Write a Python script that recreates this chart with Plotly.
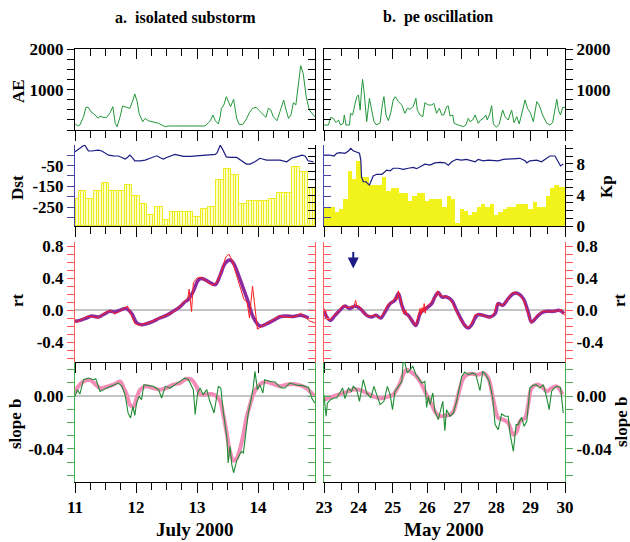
import numpy as np
import plotly.graph_objects as go

W, H = 630, 542
FONT = 'Liberation Serif'

# ---------------- data: a. isolated substorm (July 2000) ----------------
ae_a_t = [11.00, 11.04, 11.08, 11.14, 11.18, 11.22, 11.26, 11.33, 11.38, 11.41, 11.46, 11.52, 11.57, 11.62, 11.66, 11.69,
          11.74, 11.78, 11.85, 11.90, 11.95, 11.98, 12.02, 12.05, 12.11, 12.15, 12.20, 12.26, 12.31, 12.37, 12.42, 12.48,
          12.53, 12.61, 12.72, 12.83, 12.94, 13.05, 13.13, 13.19, 13.22, 13.26, 13.30, 13.35, 13.38, 13.40, 13.44, 13.48,
          13.51, 13.55, 13.60, 13.65, 13.69, 13.75, 13.80, 13.86, 13.91, 13.97, 14.02, 14.09, 14.13, 14.17, 14.21, 14.25,
          14.31, 14.36, 14.42, 14.46, 14.50, 14.54, 14.58, 14.62, 14.66, 14.70, 14.74, 14.79, 14.84, 14.90, 14.93]
ae_a = [165, 99, 124, 330, 562, 562, 454, 372, 289, 347, 314, 314, 413, 578, 165, 83, 330, 595, 562, 537, 743, 892, 702,
        413, 207, 289, 231, 207, 182, 165, 124, 83, 99, 99, 99, 99, 83, 83, 99, 182, 231, 372, 231, 149, 330, 537, 620,
        826, 702, 578, 760, 289, 140, 140, 248, 430, 537, 562, 479, 372, 314, 537, 496, 330, 231, 454, 743, 496, 289,
        372, 677, 620, 1156, 1594, 1404, 826, 496, 372, 330]

dst_a_t = [11.00, 11.05, 11.13, 11.16, 11.22, 11.27, 11.33, 11.38, 11.44, 11.49, 11.55, 11.63, 11.71, 11.77, 11.82, 11.86,
           11.90, 11.95, 11.98, 12.07, 12.15, 12.23, 12.28, 12.34, 12.39, 12.45, 12.50, 12.56, 12.64, 12.69, 12.78, 12.89,
           12.97, 13.10, 13.21, 13.30, 13.33, 13.38, 13.42, 13.48, 13.54, 13.65, 13.73, 13.81, 13.87, 13.95, 14.03, 14.14,
           14.25, 14.36, 14.47, 14.55, 14.63, 14.72, 14.77, 14.82, 14.91]
dst_a = [16, 28, 44, 48, 21, 20, 21, 24, 20, 12, 0, -3, -4, -11, -19, -11, 0, -15, -27, -27, -24, -15, -11, -3, -11, -19,
         -11, -3, 4, 0, -6, -6, -4, 0, 5, 4, 12, 48, 28, -8, -11, -11, -27, -43, -43, -32, -15, -24, -24, -24, -32, -15,
         -8, 0, -4, -27, -32]

# 3-hourly Kp, bins centred on 00, 03, 06 ... UT starting 11 July
kp_a_start = 11.0
kp_a = [3.44, 4.5, 3.44, 4.5, 5.5, 4.5, 4.5, 5.3, 3.9, 2.8, 1.4, 2.4, 0.77, 1.85, 1.85, 1.85, 1.1, 2.15, 2.4, 5.9, 7.3,
        6.6, 2.8, 3.2, 3.2, 3.2, 3.44, 4.2, 4.2, 7.6, 7.0, 4.95]

rt_a_t = [11.00, 11.04, 11.10, 11.19, 11.27, 11.38, 11.46, 11.55, 11.60, 11.65, 11.73, 11.80, 11.86, 11.91, 11.98, 12.05,
          12.12, 12.20, 12.30, 12.40, 12.50, 12.60, 12.70, 12.78, 12.85, 12.87, 12.91, 12.94, 13.00, 13.07, 13.15, 13.25,
          13.32, 13.40, 13.47, 13.52, 13.57, 13.63, 13.70, 13.77, 13.82, 13.86, 13.91, 13.95, 13.99, 14.05, 14.15, 14.25,
          14.35, 14.45, 14.55, 14.65, 14.70, 14.78, 14.85, 14.93]
rt_a = [-0.12, -0.15, -0.12, -0.08, -0.08, -0.10, -0.05, -0.01, -0.02, -0.05, -0.02, 0.02, 0.05, -0.04, -0.17, -0.19,
        -0.17, -0.16, -0.13, -0.10, -0.07, -0.03, 0.03, 0.09, 0.15, 0.26, -0.02, 0.34, 0.40, 0.41, 0.36, 0.31, 0.34, 0.48,
        0.66, 0.70, 0.63, 0.48, 0.30, 0.13, 0.10, -0.10, 0.30, 0.0, -0.24, -0.21, -0.17, -0.12, -0.07, -0.09, -0.09,
        -0.07, -0.04, -0.10, -0.14, -0.16]
rts_a_t = [11.00, 11.08, 11.19, 11.27, 11.38, 11.46, 11.57, 11.65, 11.73, 11.84, 11.93, 12.01, 12.09, 12.17, 12.28, 12.39,
           12.50, 12.61, 12.72, 12.80, 12.86, 12.94, 13.02, 13.08, 13.19, 13.30, 13.38, 13.46, 13.54, 13.60, 13.68, 13.76,
           13.84, 13.92, 14.03, 14.14, 14.25, 14.36, 14.47, 14.58, 14.69, 14.77, 14.83]
rts_a = [-0.14, -0.13, -0.10, -0.075, -0.088, -0.06, -0.017, -0.025, -0.004, 0.017, -0.046, -0.16, -0.184, -0.172, -0.142,
         -0.10, -0.067, -0.017, 0.038, 0.10, 0.134, 0.235, 0.373, 0.394, 0.352, 0.318, 0.436, 0.582, 0.624, 0.582, 0.436,
         0.268, 0.10, -0.088, -0.20, -0.172, -0.13, -0.084, -0.075, -0.08, -0.067, -0.08, -0.10]

b_a_t = [11.00, 11.04, 11.08, 11.14, 11.22, 11.30, 11.34, 11.41, 11.52, 11.63, 11.71, 11.77, 11.82, 11.87, 11.91, 11.95,
         11.98, 12.01, 12.05, 12.09, 12.13, 12.20, 12.28, 12.37, 12.42, 12.48, 12.56, 12.64, 12.72, 12.80, 12.86, 12.94,
         12.97, 13.01, 13.05, 13.10, 13.16, 13.21, 13.28, 13.35, 13.39, 13.43, 13.49, 13.51, 13.54, 13.57, 13.60, 13.65,
         13.70, 13.73, 13.76, 13.80, 13.84, 13.88, 13.92, 13.95, 13.99, 14.03, 14.08, 14.11, 14.20, 14.28, 14.33, 14.39,
         14.44, 14.52, 14.58, 14.66, 14.72, 14.77, 14.83, 14.88, 14.93]
b_a = [-0.0003, 0.0048, 0.0015, 0.0123, 0.0136, 0.0123, 0.013, 0.0035, 0.006, 0.008, 0.0098, 0.0073, 0.001, -0.0128,
       -0.0166, -0.0078, -0.0146, -0.0053, -0.0003, -0.0028, 0.0086, 0.008, 0.0073, 0.0048, -0.0015, 0.0073, 0.006,
       0.0086, 0.011, 0.0136, 0.0123, 0.0048, -0.014, 0.0023, 0.006, 0.001, 0.0048, -0.004, -0.0128, 0.0073, 0.006,
       -0.0116, -0.0317, -0.0506, -0.038, -0.0518, -0.058, -0.049, -0.044, -0.042, -0.043, -0.029, -0.0128, -0.004,
       0.006, 0.0186, 0.0048, 0.0086, 0.0023, 0.0123, 0.011, 0.0106, 0.008, 0.006, 0.006, 0.0098, 0.009, 0.008, 0.008,
       0.0073, 0.0065, -0.0015, -0.0053]
bs_a_t = [11.00, 11.05, 11.14, 11.25, 11.33, 11.41, 11.52, 11.63, 11.74, 11.79, 11.85, 11.90, 11.96, 12.01, 12.07, 12.17,
          12.28, 12.39, 12.50, 12.61, 12.72, 12.83, 12.91, 12.99, 13.05, 13.13, 13.24, 13.32, 13.38, 13.43, 13.49, 13.54,
          13.60, 13.65, 13.71, 13.76, 13.81, 13.87, 13.92, 13.98, 14.06, 14.14, 14.25, 14.36, 14.47, 14.58, 14.69, 14.77,
          14.85, 14.93]
bs_a = [0.002, 0.007, 0.011, 0.012, 0.009, 0.006, 0.007, 0.0086, 0.011, 0.007, 0.001, -0.0065, -0.0078, -0.0015, 0.0048,
        0.0073, 0.006, 0.0048, 0.006, 0.0086, 0.0098, 0.013, 0.0123, 0.0073, 0.0015, 0.001, 0.0015, -0.0003, -0.004,
        -0.014, -0.029, -0.042, -0.049, -0.047, -0.039, -0.029, -0.0166, -0.0065, 0.001, 0.006, 0.0098, 0.0106, 0.009,
        0.0073, 0.0086, 0.009, 0.008, 0.0065, 0.0035, -0.0003]

# ---------------- data: b. pe oscillation (May 2000) ----------------
ae_b_t = [23.00, 23.13, 23.19, 23.27, 23.35, 23.42, 23.48, 23.56, 23.59, 23.64, 23.74, 23.77, 23.83, 23.90, 23.95, 24.00,
          24.05, 24.09, 24.12, 24.17, 24.24, 24.32, 24.38, 24.45, 24.53, 24.63, 24.70, 24.74, 24.80, 24.87, 24.94, 25.01,
          25.07, 25.16, 25.26, 25.35, 25.42, 25.50, 25.59, 25.67, 25.71, 25.79, 25.87, 25.93, 26.03, 26.13, 26.19, 26.27,
          26.35, 26.42, 26.48, 26.56, 26.61, 26.66, 26.74, 26.78, 26.90, 27.05, 27.12, 27.19, 27.24, 27.32, 27.39, 27.48,
          27.55, 27.63, 27.70, 27.74, 27.82, 27.87, 27.92, 28.01, 28.09, 28.19, 28.26, 28.35, 28.45, 28.52, 28.60, 28.67,
          28.77, 28.84, 28.91, 29.00, 29.08, 29.18, 29.25, 29.35, 29.47, 29.56, 29.64, 29.71, 29.76, 29.81, 29.87, 29.93,
          30.00]
ae_b = [124, 124, 314, 289, 182, 248, 124, 165, 372, 124, 124, 413, 372, 620, 826, 867, 496, 991, 1256, 909, 207, 785,
        496, 207, 124, 182, 661, 826, 372, 231, 430, 743, 826, 702, 620, 413, 537, 512, 578, 785, 496, 372, 330, 677,
        620, 620, 661, 413, 537, 372, 372, 578, 595, 347, 372, 165, 124, 83, 124, 289, 207, 248, 372, 165, 248, 289, 372,
        248, 413, 603, 149, 66, 149, 496, 330, 248, 496, 182, 330, 149, 496, 743, 537, 413, 207, 702, 620, 372, 165, 124,
        182, 578, 760, 496, 372, 562, 562]

dst_b_t = [23.00, 23.17, 23.29, 23.37, 23.46, 23.61, 23.71, 23.78, 23.85, 23.95, 24.03, 24.07, 24.09, 24.14, 24.22, 24.26,
           24.32, 24.36, 24.39, 24.43, 24.53, 24.68, 24.77, 24.82, 24.92, 25.01, 25.16, 25.30, 25.45, 25.59, 25.69, 25.79,
           25.93, 26.08, 26.22, 26.37, 26.51, 26.61, 26.71, 26.85, 27.00, 27.14, 27.29, 27.39, 27.48, 27.63, 27.77, 27.92,
           28.06, 28.21, 28.35, 28.50, 28.69, 28.84, 28.89, 28.98, 29.18, 29.32, 29.47, 29.56, 29.71, 29.81, 29.87, 29.95]
dst_b = [0, 0, -4, 9, 12, 9, 20, 33, 21, 16, 9, -24, -104, -128, -128, -136, -144, -128, -116, -100, -92, -92, -80, -72,
         -75, -63, -63, -68, -63, -59, -65, -56, -43, -48, -37, -35, -37, -48, -32, -20, -24, -20, -27, -32, -20, -27,
         -24, -27, -27, -20, -19, -19, -15, -27, -37, -27, -24, -32, -15, -4, -4, -32, -52, -43]

kp_b_start = 23.0
kp_b = [2.4, 2.4, 2.4, 1.85, 2.15, 3.44, 7.05, 6.0, 8.35, 6.3, 6.3, 5.3, 5.3, 5.3, 6.3, 4.5, 4.9, 4.9, 4.3, 4.3, 3.2, 3.9,
        4.3, 4.3, 3.2, 3.44, 3.44, 3.44, 2.5, 3.9, 3.44, 0.4, 2.15, 1.9, 1.4, 1.85, 2.4, 2.8, 2.4, 2.8, 1.4, 1.85, 2.15,
        2.4, 2.4, 2.8, 2.8, 2.8, 2.15, 3.1, 2.4, 2.4, 3.9, 4.9, 5.3, 5.0, 5.0]

rt_b_t = [23.00, 23.05, 23.10, 23.19, 23.30, 23.45, 23.55, 23.62, 23.70, 23.80, 23.86, 23.92, 23.95, 24.02, 24.10, 24.20,
          24.30, 24.40, 24.50, 24.60, 24.70, 24.78, 24.85, 24.92, 25.00, 25.06, 25.12, 25.16, 25.20, 25.24, 25.28, 25.32,
          25.37, 25.42, 25.50, 25.58, 25.66, 25.72, 25.76, 25.79, 25.82, 25.85, 25.88, 25.91, 25.94, 25.98, 26.03, 26.10,
          26.17, 26.24, 26.30, 26.35, 26.40, 26.48, 26.55, 26.62, 26.70, 26.78, 26.86, 26.94, 27.02, 27.10, 27.18, 27.27,
          27.33, 27.38, 27.45, 27.52, 27.60, 27.70, 27.80, 27.88, 27.95, 28.02, 28.08, 28.15, 28.22, 28.30, 28.40, 28.48,
          28.56, 28.64, 28.72, 28.80, 28.88, 28.95, 29.02, 29.10, 29.18, 29.26, 29.32, 29.40, 29.48, 29.55, 29.62, 29.70,
          29.78, 29.83, 29.88, 29.93, 30.00]
rt_b = [0.02, -0.06, -0.12, -0.11, -0.06, 0.0, 0.06, 0.04, 0.03, 0.05, 0.03, 0.12, 0.05, 0.05, 0.0, -0.06, -0.08, -0.07,
        -0.06, -0.10, -0.06, 0.0, 0.07, 0.08, 0.11, 0.16, 0.13, 0.24, 0.15, 0.10, 0.02, -0.05, 0.0, -0.07, -0.10, -0.15,
        -0.19, -0.10, -0.03, 0.02, -0.06, 0.03, -0.02, 0.08, -0.04, 0.05, 0.06, 0.09, 0.14, 0.16, 0.24, 0.18, 0.19, 0.16,
        0.17, 0.15, 0.11, 0.04, -0.05, -0.10, -0.15, -0.20, -0.22, -0.18, -0.12, -0.06, -0.05, -0.06, -0.06, -0.08,
        -0.10, -0.08, -0.03, 0.08, 0.07, 0.06, 0.07, 0.12, 0.18, 0.22, 0.22, 0.20, 0.17, 0.12, 0.02, -0.08, -0.16, -0.12,
        -0.07, -0.05, -0.02, -0.02, -0.01, -0.03, -0.01, -0.02, 0.0, -0.02, 0.01, -0.03, -0.07]
rts_b_t = [23.00, 23.08, 23.19, 23.32, 23.46, 23.61, 23.74, 23.90, 24.05, 24.24, 24.38, 24.51, 24.65, 24.77, 24.92, 25.06,
           25.16, 25.26, 25.35, 25.45, 25.55, 25.67, 25.79, 25.88, 25.98, 26.13, 26.22, 26.32, 26.42, 26.56, 26.71, 26.85,
           27.00, 27.09, 27.19, 27.29, 27.39, 27.48, 27.63, 27.82, 27.97, 28.06, 28.19, 28.35, 28.50, 28.64, 28.79, 28.93,
           29.03, 29.18, 29.32, 29.47, 29.66, 29.81, 29.90, 29.97]
rts_b = [-0.004, -0.088, -0.13, -0.067, -0.004, 0.05, 0.017, 0.05, 0.017, -0.067, -0.088, -0.067, -0.10, -0.025, 0.08,
         0.12, 0.205, 0.059, -0.034, -0.067, -0.13, -0.193, -0.046, -0.004, 0.025, 0.08, 0.163, 0.218, 0.163, 0.163,
         0.12, -0.004, -0.13, -0.193, -0.226, -0.184, -0.10, -0.059, -0.067, -0.088, -0.046, 0.08, 0.059, 0.142, 0.205,
         0.205, 0.142, -0.025, -0.15, -0.088, -0.034, -0.017, -0.017, -0.004, -0.017, -0.046]

b_b_t = [23.00, 23.06, 23.10, 23.19, 23.29, 23.37, 23.46, 23.54, 23.61, 23.71, 23.80, 23.85, 23.95, 24.03, 24.14, 24.24,
         24.36, 24.45, 24.53, 24.63, 24.74, 24.84, 24.92, 24.99, 25.06, 25.16, 25.26, 25.30, 25.35, 25.42, 25.50, 25.58,
         25.67, 25.74, 25.84, 25.93, 25.98, 26.03, 26.08, 26.16, 26.22, 26.32, 26.37, 26.45, 26.51, 26.56, 26.66, 26.76,
         26.85, 26.93, 27.00, 27.09, 27.19, 27.32, 27.41, 27.53, 27.61, 27.70, 27.80, 27.90, 27.97, 28.06, 28.16, 28.26,
         28.35, 28.40, 28.50, 28.58, 28.64, 28.74, 28.81, 28.89, 28.98, 29.06, 29.16, 29.27, 29.37, 29.47, 29.54, 29.61,
         29.68, 29.76, 29.87, 29.95]
b_b = [0.001, -0.0153, -0.0053, -0.0028, -0.0015, -0.0015, 0.0023, 0.006, -0.002, 0.006, 0.0035, 0.0073, 0.0048, -0.004,
       0.0123, 0.0023, -0.0015, 0.0073, 0.001, -0.0065, -0.004, 0.0073, 0.001, -0.0103, 0.0035, 0.0073, 0.011, 0.0274,
       0.0249, 0.0174, 0.0199, 0.0224, 0.0161, 0.0136, 0.0098, 0.011, -0.0086, -0.0003, -0.0065, 0.0023, -0.0116,
       -0.0179, -0.0128, -0.004, -0.0262, -0.0103, -0.0153, -0.0128, -0.004, 0.006, 0.0148, 0.0181, 0.0161, 0.0174,
       0.0161, 0.004, 0.0186, 0.0161, 0.011, -0.0015, -0.0216, -0.0254, -0.0136, -0.0153, -0.0153, -0.0279, -0.0418,
       -0.0216, -0.0216, -0.0161, -0.0229, -0.0191, 0.006, 0.008, 0.0086, 0.006, 0.0086, -0.0015, -0.0103, 0.0035,
       0.006, 0.0073, 0.0065, -0.0128]
bs_b_t = [23.00, 23.13, 23.27, 23.42, 23.56, 23.71, 23.85, 24.00, 24.14, 24.29, 24.43, 24.58, 24.72, 24.87, 25.01, 25.11,
          25.21, 25.30, 25.40, 25.50, 25.64, 25.79, 25.93, 26.03, 26.13, 26.25, 26.37, 26.51, 26.66, 26.76, 26.85, 26.95,
          27.05, 27.19, 27.34, 27.48, 27.63, 27.77, 27.87, 27.97, 28.06, 28.21, 28.35, 28.50, 28.60, 28.69, 28.84, 28.93,
          29.03, 29.18, 29.32, 29.47, 29.61, 29.76, 29.85, 29.93]
bs_b = [-0.0028, -0.0015, -0.0003, 0.001, 0.0023, 0.0035, 0.0048, 0.0048, 0.0035, 0.0015, -0.0003, -0.0015, -0.0015,
        -0.0003, 0.001, 0.0048, 0.0098, 0.0161, 0.0199, 0.0186, 0.0161, 0.011, 0.0035, -0.0015, -0.0065, -0.0128,
        -0.0153, -0.0148, -0.0141, -0.0116, -0.004, 0.006, 0.0136, 0.0166, 0.0166, 0.0161, 0.0174, 0.0136, 0.0035,
        -0.0091, -0.0166, -0.0179, -0.0204, -0.0292, -0.0267, -0.0191, -0.0166, -0.0065, 0.006, 0.0086, 0.0073, 0.0035,
        0.006, 0.0073, 0.0048, 0.001]

arrow_t, arrow_rt = 23.85, 0.52

# ---------------- tick labels ----------------
day_ticks_a = [11, 12, 13, 14]
day_ticks_b = [23, 24, 25, 26, 27, 28, 29, 30]
ae_tickvals = [0, 250, 500, 750, 1000, 1250, 1500, 1750, 2000]
ae_ticktext = ['', '', '', '', '1000', '', '', '', '2000']
dst_tickvals = [-300, -250, -200, -150, -100, -50, 0, 50]
dst_ticktext = ['', '-250', '', '-150', '', '-50', '', '']
kp_tickvals = [0, 1, 2, 3, 4, 5, 6, 7, 8, 9, 10]
kp_ticktext = ['0', '', '', '', '4', '', '', '', '8', '', '']
rt_tickvals = [-0.6, -0.5, -0.4, -0.3, -0.2, -0.1, 0.0, 0.1, 0.2, 0.3, 0.4, 0.5, 0.6, 0.7, 0.8]
rt_ticktext = ['', '', '-0.4', '', '', '', '0.0', '', '', '', '0.4', '', '', '', '0.8']
b_tickvals = [-0.06, -0.05, -0.04, -0.03, -0.02, -0.01, 0.0, 0.01, 0.02]
b_ticktext = ['', '', '-0.04', '', '', '', '0.00', '', '']

# ---------------- layout helpers ----------------
def fx(p):
    return p / W

def fy(p):
    return 1 - p / H

TICKFONT = dict(family=FONT, size=17, color='black', weight='bold')
XTICKFONT = dict(family=FONT, size=17, color='black', weight='bold')

COLS = [
    dict(key='a', dom=(75, 315), rng=[11, 14.934], minor=0.25, ticks=day_ticks_a, outer='left'),
    dict(key='b', dom=(324, 565), rng=[23, 30], minor=0.5, ticks=day_ticks_b, outer='right'),
]
ROWS = [
    dict(key='ae', top=49.3, bot=130),
    dict(key='dst', top=145, bot=226),
    dict(key='rt', top=242, bot=362),
    dict(key='b', top=362, bot=482),
]
YSPEC = {
    'ae': dict(left=dict(rng=[0, 2000], vals=ae_tickvals, text=ae_ticktext, color='black'),
               right=dict(rng=[0, 2000], vals=ae_tickvals, text=ae_ticktext, color='black'), base='left'),
    'dst': dict(left=dict(rng=[-341, 49], vals=dst_tickvals, text=dst_ticktext, color='#4646a6'),
                right=dict(rng=[0, 10.45], vals=kp_tickvals, text=kp_ticktext, color='black'), base='right'),
    'rt': dict(left=dict(rng=[-0.65, 0.85], vals=rt_tickvals, text=rt_ticktext, color='#ff5c5c'),
               right=dict(rng=[-0.65, 0.85], vals=rt_tickvals, text=rt_ticktext, color='#ff5c5c'), base='left'),
    'b': dict(left=dict(rng=[-0.065, 0.0257], vals=b_tickvals, text=b_ticktext, color='#4cae52'),
              right=dict(rng=[-0.065, 0.0257], vals=b_tickvals, text=b_ticktext, color='#4cae52'), base='left'),
}

layout = {}
count = {'x': 0, 'y': 0}

def new_axis(kind):
    count[kind] += 1
    i = count[kind]
    return (f'{kind}axis' if i == 1 else f'{kind}axis{i}'), (kind if i == 1 else f'{kind}{i}')

def make_x(col, row, anchor, labels, side='bottom', ticks='outside', overlaying=None):
    d = dict(domain=[fx(col['dom'][0]), fx(col['dom'][1])], range=col['rng'], anchor=anchor, side=side,
             tickmode='array', tickvals=col['ticks'], ticks=ticks, ticklen=10, tickwidth=1, tickcolor='black',
             minor=dict(tick0=col['rng'][0], dtick=col['minor'], ticks=ticks, ticklen=7, tickwidth=1,
                        tickcolor='black', showgrid=False),
             showline=True, linecolor='black', linewidth=1, showticklabels=labels, tickfont=XTICKFONT,
             showgrid=False, zeroline=False, fixedrange=True)
    if overlaying:
        d['overlaying'] = overlaying
    return d

def make_y(spec, side, col, row, anchor, overlaying=None, zero=False):
    outer = side == col['outer']
    d = dict(domain=[fy(row['bot']), fy(row['top'])], range=spec['rng'], side=side, anchor=anchor,
             tickmode='array', tickvals=spec['vals'], ticktext=spec['text'],
             ticks='outside' if outer else 'inside', ticklen=7, tickwidth=1, tickcolor=spec['color'],
             showline=True, linecolor=spec['color'], linewidth=1,
             showticklabels=outer, tickfont=TICKFONT, showgrid=False, fixedrange=True,
             zeroline=zero, zerolinecolor='#c4c4c4', zerolinewidth=2)
    if overlaying:
        d['overlaying'] = overlaying
    return d

fig = go.Figure()
panel_refs = {}
pairs = []   # (x, y) pairs that must exist as subplots so their axes are drawn
for col in COLS:
    for row in ROWS:
        spec = YSPEC[row['key']]
        xk, xr = new_axis('x')
        lk, lr = new_axis('y')
        rk, rr = new_axis('y')
        zero = row['key'] in ('rt', 'b')
        if spec['base'] == 'left':
            layout[lk] = make_y(spec['left'], 'left', col, row, xr, zero=zero)
            layout[rk] = make_y(spec['right'], 'right', col, row, xr, overlaying=lr)
            base, over = lr, rr
        else:
            layout[rk] = make_y(spec['right'], 'right', col, row, xr)
            layout[lk] = make_y(spec['left'], 'left', col, row, xr, overlaying=rr)
            base, over = rr, lr
        pairs.append((xr, over))
        layout[xk] = make_x(col, row, base, labels=(row['key'] == 'b'))
        if row['key'] == 'ae':
            tk, tr = new_axis('x')
            layout[tk] = make_x(col, row, base, labels=False, side='top', ticks='inside', overlaying=xr)
            pairs.append((tr, base))
        panel_refs[(col['key'], row['key'])] = dict(x=xr, left=lr, right=rr)

# empty placeholder traces so that every overlaid axis is drawn
for xa, ya in pairs:
    fig.add_trace(go.Scatter(x=[], y=[], mode='lines', xaxis=xa, yaxis=ya, hoverinfo='skip'))

# ---------------- traces ----------------
AE_C, DST_C = '#23963a', '#1c1c84'
KP_C = '#f3f31c'
RT_S, RT_R = '#8c2aa0', '#ff1e1e'
B_S, B_R = '#f38cb6', '#1f8c34'

series = {
    'a': dict(ae=(ae_a_t, ae_a), dst=(dst_a_t, dst_a), rt=(rt_a_t, rt_a), rts=(rts_a_t, rts_a),
              b=(b_a_t, b_a), bs=(bs_a_t, bs_a)),
    'b': dict(ae=(ae_b_t, ae_b), dst=(dst_b_t, dst_b), rt=(rt_b_t, rt_b), rts=(rts_b_t, rts_b),
              b=(b_b_t, b_b), bs=(bs_b_t, bs_b)),
}

for ck in ('a', 'b'):
    s = series[ck]
    r = panel_refs[(ck, 'ae')]
    fig.add_trace(go.Scatter(x=s['ae'][0], y=s['ae'][1], mode='lines', line=dict(color=AE_C, width=1),
                             xaxis=r['x'], yaxis=r['left']))
    r = panel_refs[(ck, 'dst')]
    if ck == 'a':
        kp_t = kp_a_start + np.arange(len(kp_a)) / 8.0
        hour_t = (kp_t[:, None] + np.array([-1.0, 0.0, 1.0])[None, :] / 24.0).ravel()
        hour_v = np.repeat(np.array(kp_a), 3)
        fig.add_trace(go.Bar(x=hour_t, y=hour_v, width=1 / 24.0,
                             marker=dict(color='#ffffcc', line=dict(color='#ecec1a', width=1)),
                             xaxis=r['x'], yaxis=r['right']))
    else:
        kp_t = kp_b_start + np.arange(len(kp_b)) / 8.0
        fig.add_trace(go.Bar(x=kp_t, y=kp_b, width=1 / 8.0, marker=dict(color=KP_C, line=dict(width=0)),
                             xaxis=r['x'], yaxis=r['right']))
    fig.add_trace(go.Scatter(x=s['dst'][0], y=s['dst'][1], mode='lines', line=dict(color=DST_C, width=1.2),
                             xaxis=r['x'], yaxis=r['left']))
    r = panel_refs[(ck, 'rt')]
    fig.add_trace(go.Scatter(x=s['rts'][0], y=s['rts'][1], mode='lines', line=dict(color=RT_S, width=3.5, shape='spline'),
                             xaxis=r['x'], yaxis=r['left']))
    fig.add_trace(go.Scatter(x=s['rt'][0], y=s['rt'][1], mode='lines', line=dict(color=RT_R, width=1),
                             xaxis=r['x'], yaxis=r['left']))
    r = panel_refs[(ck, 'b')]
    fig.add_trace(go.Scatter(x=s['bs'][0], y=s['bs'][1], mode='lines', line=dict(color=B_S, width=4, shape='spline'),
                             xaxis=r['x'], yaxis=r['left']))
    fig.add_trace(go.Scatter(x=s['b'][0], y=s['b'][1], mode='lines', line=dict(color=B_R, width=1.1),
                             xaxis=r['x'], yaxis=r['left']))

# ---------------- annotations ----------------
ann = []
TF = dict(family=FONT, size=16, color='black', weight='bold')
AF = dict(family=FONT, size=17, color='black', weight='bold')

def text(t, x, y, font, angle=0):
    ann.append(dict(text=t, x=fx(x), y=fy(y), xref='paper', yref='paper', showarrow=False,
                    xanchor='center', yanchor='middle', font=font, textangle=angle))

text('a.\u00a0 isolated substorm', 185, 17, TF)
text('b.\u00a0 pe oscillation', 438, 17, TF)
text('AE', 18, 91, AF, -90)
text('Dst', 18, 188, AF, -90)
text('rt', 17, 300, AF, -90)
text('slope b', 15, 424, AF, -90)
text('Kp', 606, 187, AF, -90)
text('rt', 619, 300, AF, -90)
text('slope b', 621, 422, AF, -90)
text('July 2000', 195, 529, dict(family=FONT, size=19, color='black', weight='bold'))
text('May 2000', 444, 529, dict(family=FONT, size=19, color='black', weight='bold'))

r = panel_refs[('b', 'rt')]
ann.append(dict(x=arrow_t, y=arrow_rt, xref=r['x'], yref=r['left'], text='', showarrow=True,
                ax=0, ay=-18, arrowhead=2, arrowsize=1.1, arrowwidth=2, arrowcolor=DST_C))

fig.update_layout(**layout)
fig.update_layout(width=W, height=H, margin=dict(l=0, r=0, t=0, b=0, pad=0, autoexpand=False), showlegend=False,
                  paper_bgcolor='white', plot_bgcolor='rgba(0,0,0,0)', annotations=ann, bargap=0)

fig.write_html('out.html')
